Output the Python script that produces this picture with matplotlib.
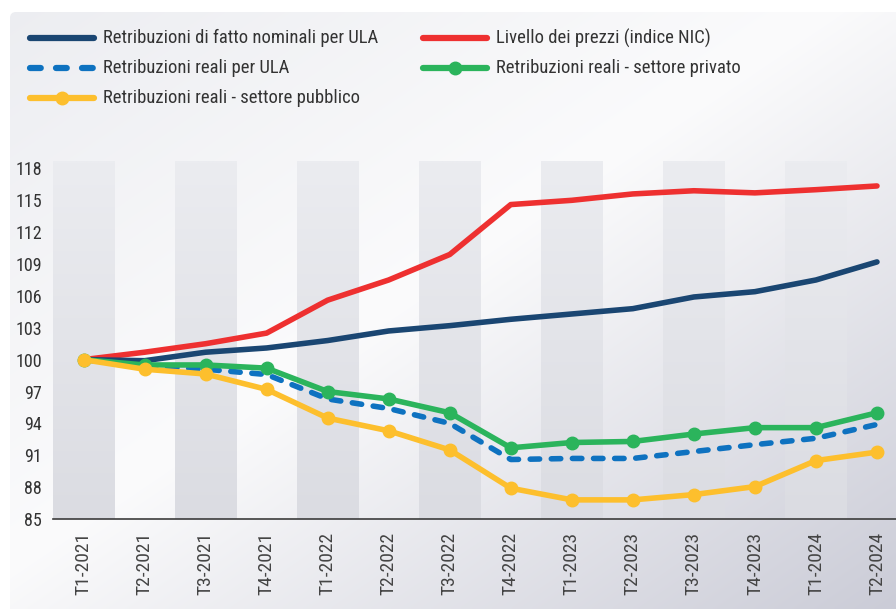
import matplotlib
matplotlib.use('Agg')
import matplotlib.pyplot as plt
import numpy as np
from matplotlib import font_manager
from matplotlib.lines import Line2D
from matplotlib.patches import FancyBboxPatch

# ---------------- data ----------------
quarters = ["T1-2021", "T2-2021", "T3-2021", "T4-2021", "T1-2022", "T2-2022", "T3-2022",
            "T4-2022", "T1-2023", "T2-2023", "T3-2023", "T4-2023", "T1-2024", "T2-2024"]
nominali = [100.0, 99.9, 100.7, 101.1, 101.8, 102.7, 103.2, 103.8, 104.3, 104.8, 105.9, 106.4, 107.5, 109.2]
prezzi = [100.0, 100.7, 101.5, 102.5, 105.6, 107.5, 109.9, 114.6, 115.0, 115.6, 115.9, 115.7, 116.0, 116.35]
reali_ula = [100.0, 99.4, 99.1, 98.6, 96.3, 95.4, 94.0, 90.6, 90.7, 90.7, 91.35, 92.0, 92.6, 93.9]
reali_privato = [100.0, 99.5, 99.5, 99.2, 97.0, 96.3, 95.0, 91.7, 92.2, 92.3, 93.0, 93.6, 93.6, 95.0]
reali_pubblico = [100.0, 99.1, 98.65, 97.2, 94.5, 93.3, 91.5, 87.9, 86.8, 86.8, 87.3, 88.05, 90.5, 91.3]
yticks = [85, 88, 91, 94, 97, 100, 103, 106, 109, 112, 115, 118]

labels = ["Retribuzioni di fatto nominali per ULA", "Livello dei prezzi (indice NIC)",
          "Retribuzioni reali per ULA", "Retribuzioni reali - settore privato",
          "Retribuzioni reali - settore pubblico"]

C_NAVY = "#1a4672"
C_RED = "#ee3030"
C_BLUE = "#0e72c0"
C_GREEN = "#2bb45c"
C_YELLOW = "#fdbf2d"

# ---------------- fonts ----------------
names = {f.name for f in font_manager.fontManager.ttflist}
def pick(cands):
    for c in cands:
        if c in names:
            return c
    return "DejaVu Sans"

cond = pick(["Roboto Condensed", "Liberation Sans Narrow", "Roboto", "Liberation Sans"])
narrow = pick(["Liberation Sans Narrow", "Roboto Condensed", "Liberation Sans"])

W, H = 896, 609
fig = plt.figure(figsize=(W / 100, H / 100), dpi=100)
fig.patch.set_facecolor("white")

# ---------------- background panel with gradient ----------------
bg = fig.add_axes([0, 0, 1, 1])
bg.axis("off")
xs = np.linspace(0, 1, 300)
ys = np.linspace(0, 1, 200)
XX, YY = np.meshgrid(xs, ys)
t = (XX + YY) / 2.0
c0 = np.array([236, 237, 241]) / 255
c1 = np.array([251, 251, 252]) / 255
c2 = np.array([203, 204, 215]) / 255
img = np.zeros(t.shape + (3,))
m = t < 0.47
a = (t / 0.47)[..., None]
b = ((t - 0.47) / 0.53)[..., None]
img = np.where(m[..., None], c0 + (c1 - c0) * a, c1 + (c2 - c1) * np.clip(b, 0, 1))
im = bg.imshow(img, extent=[0, W, H, 0], aspect="auto", zorder=0, interpolation="bilinear")
panel = FancyBboxPatch((10, 12), W + 20, H + 20, boxstyle="round,pad=0,rounding_size=6",
                       transform=bg.transData, facecolor="none", edgecolor="none")
bg.add_patch(panel)
im.set_clip_path(panel)
bg.set_xlim(0, W)
bg.set_ylim(H, 0)

# ---------------- main axes ----------------
x0, x1, ytop, ybot = 53, 896, 161, 519
ax = fig.add_axes([x0 / W, 1 - ybot / H, (x1 - x0) / W, (ybot - ytop) / H])
ax.patch.set_alpha(0)
YMIN, YMAX = 85, 118.7
XMAX = 13 + 19 / 61

band = np.linspace(0, 1, 100)[:, None]
top_c = np.array([235, 236, 240]) / 255
bot_c = np.array([219, 220, 226]) / 255
band_img = (top_c + (bot_c - top_c) * band[..., None]).reshape(100, 1, 3)
for i in range(0, len(quarters), 2):
    ax.imshow(band_img, extent=[i - 0.5, i + 0.5, YMIN, YMAX], aspect="auto",
              zorder=0, interpolation="bilinear")

x = np.arange(len(quarters))
LW = 4.0
ax.plot(x, prezzi, color=C_RED, lw=LW, solid_capstyle="round", solid_joinstyle="round", zorder=3)
ax.plot(x, nominali, color=C_NAVY, lw=LW, solid_capstyle="round", solid_joinstyle="round", zorder=3)
ax.plot(x, reali_ula, color=C_BLUE, lw=LW, dashes=(1.7, 2.1), dash_capstyle="round",
        dash_joinstyle="round", zorder=4)
ax.plot(x, reali_privato, color=C_GREEN, lw=LW, marker="o", ms=9, mec=C_GREEN,
        solid_capstyle="round", solid_joinstyle="round", zorder=5)
ax.plot(x, reali_pubblico, color=C_YELLOW, lw=LW, marker="o", ms=9, mec=C_YELLOW,
        solid_capstyle="round", solid_joinstyle="round", zorder=6)

ax.set_xlim(-0.5, XMAX)
ax.set_ylim(YMIN, YMAX)
for s in ["top", "right", "left"]:
    ax.spines[s].set_visible(False)
ax.spines["bottom"].set_color("#3c3c3c")
ax.spines["bottom"].set_linewidth(1.2)
ax.spines["bottom"].set_zorder(7)

ax.set_yticks(yticks)
ax.set_yticklabels([str(v) for v in yticks], fontsize=13, family=cond, color="#333333")
ax.set_xticks(x)
ax.set_xticklabels(quarters, rotation=90, fontsize=14, family=narrow, color="#444444")
ax.tick_params(axis="y", length=0, pad=8)
ax.tick_params(axis="x", length=0, pad=9)

# ---------------- legend (manual, figure pixel coords) ----------------
leg = fig.add_axes([0, 0, 1, 1])
leg.axis("off")
leg.set_xlim(0, W)
leg.set_ylim(H, 0)

items = [
    (27, 38, labels[0], C_NAVY, "solid", False),
    (420, 38, labels[1], C_RED, "solid", False),
    (27, 68, labels[2], C_BLUE, "dash", False),
    (420, 68, labels[3], C_GREEN, "solid", True),
    (27, 98, labels[4], C_YELLOW, "solid", True),
]
HLW = 4.5
half = HLW * 100 / 72 / 2
texts = []
for hx, hy, lab, col, style, mk in items:
    if style == "dash":
        leg.plot([hx + half, hx + 70 - half], [hy, hy], color=col, lw=HLW,
                 dashes=(1.72, 2.44), dash_capstyle="round")
    else:
        leg.plot([hx + half, hx + 70 - half], [hy, hy], color=col, lw=HLW,
                 solid_capstyle="round")
    if mk:
        leg.plot([hx + 35], [hy], marker="o", ms=9, color=col)
    texts.append(leg.text(hx + 76, hy, lab, fontsize=12, family=cond, color="#333333",
                          va="center", ha="left"))

# fit legend font size to the reference width of the first label
fig.canvas.draw()
r = fig.canvas.get_renderer()
w0 = texts[0].get_window_extent(r).width
fs = 12 * 274.0 / w0
for tx in texts:
    tx.set_fontsize(fs)

fig.savefig("out.png", dpi=100, facecolor="white")
